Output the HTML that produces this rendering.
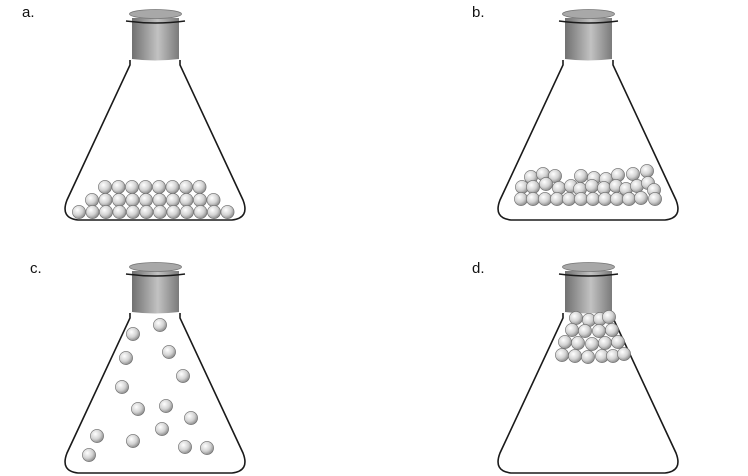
<!DOCTYPE html>
<html><head><meta charset="utf-8"><style>
html,body{margin:0;padding:0;background:#fff;width:748px;height:476px;overflow:hidden}
</style></head><body>
<svg width="748" height="476" viewBox="0 0 748 476" xmlns="http://www.w3.org/2000/svg">
<defs>
<radialGradient id="bg" cx="0.38" cy="0.35" r="0.72">
<stop offset="0" stop-color="#ffffff"/><stop offset="0.55" stop-color="#d2d2d2"/><stop offset="1" stop-color="#7e7e7e"/>
</radialGradient>
<linearGradient id="sg" x1="0" x2="1" y1="0" y2="0">
<stop offset="0" stop-color="#707070"/><stop offset="0.55" stop-color="#c2c2c2"/><stop offset="1" stop-color="#7a7a7a"/>
</linearGradient>
<g id="flask">
<path d="M130,60 L130,65 L67,200 Q60,218 78,220 L232,220 Q250,218 243,200 L180,65 L180,60" fill="none" stroke="#1a1a1a" stroke-width="1.6"/>
<path d="M132,18 L132,59 Q155,62 179,59 L179,18 Z" fill="url(#sg)"/>
<ellipse cx="155.5" cy="14" rx="26" ry="4.5" fill="#a8a8a8" stroke="#777" stroke-width="0.8"/>
<path d="M126,21 Q155.5,25 185,21" fill="none" stroke="#1a1a1a" stroke-width="1.5"/>
</g>
<g id="b"><circle r="6.6" fill="url(#bg)" stroke="#6a6a6a" stroke-width="0.6"/></g>
</defs>
<g font-family="Liberation Sans, sans-serif" font-size="15" fill="#111">
<text x="22" y="17">a.</text><text x="472" y="17">b.</text>
<text x="30" y="273">c.</text><text x="472" y="273">d.</text>
</g>
<use href="#flask"/>
<use href="#flask" x="433"/>
<use href="#flask" y="253"/>
<use href="#flask" x="433" y="253"/>
<g>
<use href="#b" x="105" y="187"/><use href="#b" x="118.5" y="187"/><use href="#b" x="132" y="187"/><use href="#b" x="145.5" y="187"/><use href="#b" x="159" y="187"/><use href="#b" x="172.5" y="187"/><use href="#b" x="186" y="187"/><use href="#b" x="199.5" y="187"/>
<use href="#b" x="92" y="200"/><use href="#b" x="105.5" y="200"/><use href="#b" x="119" y="200"/><use href="#b" x="132.5" y="200"/><use href="#b" x="146" y="200"/><use href="#b" x="159.5" y="200"/><use href="#b" x="173" y="200"/><use href="#b" x="186.5" y="200"/><use href="#b" x="200" y="200"/><use href="#b" x="213.5" y="200"/>
<use href="#b" x="79" y="212"/><use href="#b" x="92.5" y="212"/><use href="#b" x="106" y="212"/><use href="#b" x="119.5" y="212"/><use href="#b" x="133" y="212"/><use href="#b" x="146.5" y="212"/><use href="#b" x="160" y="212"/><use href="#b" x="173.5" y="212"/><use href="#b" x="187" y="212"/><use href="#b" x="200.5" y="212"/><use href="#b" x="214" y="212"/><use href="#b" x="227.5" y="212"/>
</g>
<g>
<use href="#b" x="531" y="177"/><use href="#b" x="543" y="174"/><use href="#b" x="555" y="176"/><use href="#b" x="581" y="176"/><use href="#b" x="594" y="178"/><use href="#b" x="606" y="179"/><use href="#b" x="618" y="175"/><use href="#b" x="633" y="174"/><use href="#b" x="647" y="171"/>
<use href="#b" x="522" y="187"/><use href="#b" x="533" y="187"/><use href="#b" x="546" y="184"/><use href="#b" x="559" y="188"/><use href="#b" x="571" y="186"/><use href="#b" x="580" y="189"/><use href="#b" x="592" y="186"/><use href="#b" x="604" y="188"/><use href="#b" x="616" y="186"/><use href="#b" x="626" y="189"/><use href="#b" x="637" y="186"/><use href="#b" x="648" y="183"/><use href="#b" x="654" y="190"/>
<use href="#b" x="521" y="199"/><use href="#b" x="533" y="199"/><use href="#b" x="545" y="199"/><use href="#b" x="557" y="199"/><use href="#b" x="569" y="199"/><use href="#b" x="581" y="199"/><use href="#b" x="593" y="199"/><use href="#b" x="605" y="199"/><use href="#b" x="617" y="199"/><use href="#b" x="629" y="199"/><use href="#b" x="641" y="198"/><use href="#b" x="655" y="199"/>
</g>
<g>
<use href="#b" x="160" y="325"/><use href="#b" x="133" y="334"/><use href="#b" x="169" y="352"/><use href="#b" x="126" y="358"/><use href="#b" x="183" y="376"/><use href="#b" x="122" y="387"/><use href="#b" x="166" y="406"/><use href="#b" x="138" y="409"/><use href="#b" x="191" y="418"/><use href="#b" x="97" y="436"/><use href="#b" x="162" y="429"/><use href="#b" x="133" y="441"/><use href="#b" x="185" y="447"/><use href="#b" x="207" y="448"/><use href="#b" x="89" y="455"/>
</g>
<g>
<use href="#b" x="576" y="318"/><use href="#b" x="589" y="320"/><use href="#b" x="600" y="319"/><use href="#b" x="609" y="317"/>
<use href="#b" x="572" y="330"/><use href="#b" x="585" y="331"/><use href="#b" x="599" y="331"/><use href="#b" x="612" y="330"/>
<use href="#b" x="565" y="342"/><use href="#b" x="578" y="343"/><use href="#b" x="592" y="344"/><use href="#b" x="605" y="343"/><use href="#b" x="618" y="342"/>
<use href="#b" x="562" y="355"/><use href="#b" x="575" y="356"/><use href="#b" x="588" y="357"/><use href="#b" x="602" y="356"/><use href="#b" x="613" y="356"/><use href="#b" x="624" y="354"/>
</g>
</svg>
</body></html>
